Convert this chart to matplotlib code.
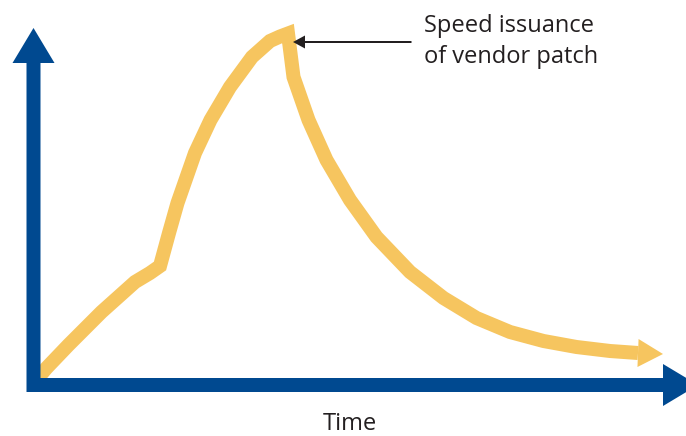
import matplotlib.pyplot as plt

# curve (time, level), axis origin at (0, 0)
time = [4.5, 13, 35, 68, 101.5, 116.5, 126.5, 135.5, 144, 161.5, 177, 196.5,
        218.5, 236.5, 246.5, 254.5,
        260, 275, 293, 316.5, 343, 376.5, 410, 443, 476.5, 510, 543, 576.5, 604.5]
level = [7, 17, 40, 73, 103, 112, 119, 152, 182, 232, 265, 298,
         328, 344, 348.5, 351.5,
         308, 265, 225, 185, 148, 113, 87, 67, 53, 44, 38, 34, 32]

note_lines = ["Speed issuance", "of vendor patch"]
x_label = "Time"

blue = "#004990"
yellow = "#F6C55F"
ink = "#231F20"

fig = plt.figure(figsize=(6.86, 4.36), dpi=100)
ax = fig.add_axes([0, 0, 1, 1])
ax.set_xlim(-33.5, 652.5)
ax.set_ylim(-51, 385)
ax.axis("off")

# yellow curve with arrow head at the end
ax.plot(time, level, color=yellow, lw=10.1, solid_joinstyle="miter",
        solid_capstyle="butt", zorder=2)
ax.arrow(time[-1], level[-1], 25, -1, width=14, head_width=28, head_length=25,
         length_includes_head=True, color=yellow, lw=0, zorder=2)

# blue axes
ax.arrow(0, -7, 0, 364, width=14, head_width=42, head_length=35,
         length_includes_head=True, color=blue, lw=0, zorder=3)
ax.arrow(-6.5, 0, 671, 0, width=14, head_width=42, head_length=35,
         length_includes_head=True, color=blue, lw=0, zorder=3)

# annotation for the peak
peak = level.index(max(level))
ax.arrow(378, 343, time[peak] + 5 - 378, 0, width=2, head_width=13, head_length=12,
         length_includes_head=True, color=ink, lw=0, zorder=4)
ax.text(390, 353, note_lines[0], fontsize=17, family="Open Sans", color=ink,
        ha="left", va="baseline")
ax.text(390, 322, note_lines[1], fontsize=17, family="Open Sans", color=ink,
        ha="left", va="baseline")

ax.text(316, -45, x_label, fontsize=17, family="Open Sans", color=ink,
        ha="center", va="baseline")

fig.savefig("out.png", dpi=100)
